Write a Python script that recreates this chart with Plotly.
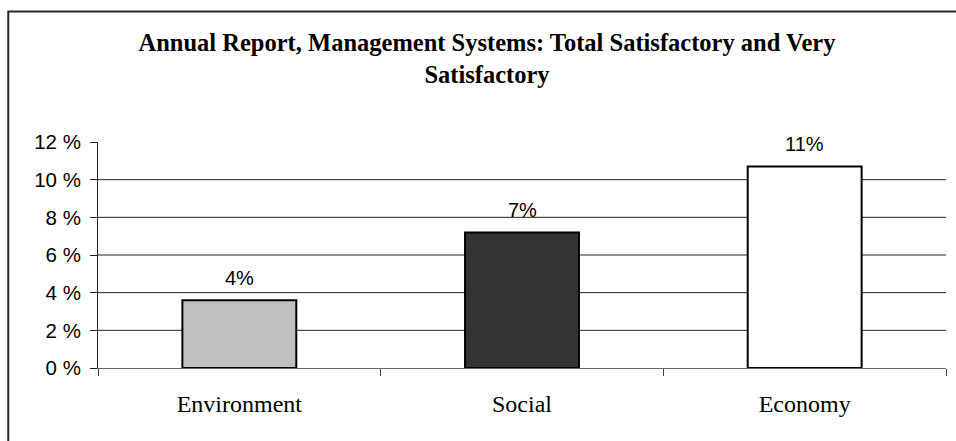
import plotly.graph_objects as go

# ---- data ----
categories = ["Environment", "Social", "Economy"]
values = [3.6, 7.2, 10.7]            # percent
value_labels = ["4%", "7%", "11%"]
bar_colors = ["#C0C0C0", "#333333", "#FFFFFF"]
y_tick_values = [0, 2, 4, 6, 8, 10, 12]
y_tick_labels = ["0 %", "2 %", "4 %", "6 %", "8 %", "10 %", "12 %"]
grid_values = [2, 4, 6, 8, 10]

title_text = ("Annual Report, Management Systems: Total Satisfactory and Very"
              "<br>Satisfactory")

fig = go.Figure()
fig.add_trace(go.Bar(
    x=categories,
    y=values,
    marker=dict(color=bar_colors, line=dict(color="#000000", width=2)),
    hoverinfo="skip",
    showlegend=False,
))

# value labels above bars
for c, v, t in zip(categories, values, value_labels):
    fig.add_annotation(
        x=c, y=v, text=t, showarrow=False,
        xref="x", yref="y", yanchor="middle", yshift=22,
        font=dict(family="Liberation Sans, Arial", size=20, color="#000000"),
    )

# horizontal gridlines (excluding top of axis)
for g in grid_values:
    fig.add_shape(
        type="line", xref="paper", yref="y", x0=0, x1=1, y0=g, y1=g,
        line=dict(color="#222222", width=1), layer="below",
    )

# outer chart frame (extends beyond the right/bottom edge of the picture)
fig.add_shape(
    type="rect", xref="paper", yref="paper",
    x0=-0.1058, x1=1.2, y0=-1.0, y1=1.577,
    line=dict(color="#2a2a2a", width=2), layer="below",
)

fig.update_layout(
    width=956, height=441,
    margin=dict(l=98, r=10, t=142, b=73, pad=0),
    paper_bgcolor="#FFFFFF",
    plot_bgcolor="#FFFFFF",
    bargap=0.597,
    title=dict(
        text=title_text,
        xref="container", yref="container",
        x=487 / 956, xanchor="center",
        y=1 - 51 / 441, yanchor="middle",
        font=dict(family="Liberation Serif, Times New Roman", size=24.5,
                  color="#000000", weight="bold"),
    ),
    xaxis=dict(
        type="category",
        showgrid=False,
        showline=True, linecolor="#666666", linewidth=1,
        ticks="outside", ticklen=7, tickcolor="#444444", tickwidth=1,
        tickson="boundaries",
        ticklabelstandoff=14,
        tickfont=dict(family="Liberation Serif, Times New Roman", size=24,
                      color="#000000"),
        zeroline=False,
        fixedrange=True,
    ),
    yaxis=dict(
        range=[0, 12],
        tickmode="array", tickvals=y_tick_values, ticktext=y_tick_labels,
        showgrid=False,
        showline=True, linecolor="#222222", linewidth=1,
        ticks="outside", ticklen=7, tickcolor="#222222", tickwidth=1,
        ticklabelstandoff=5,
        tickfont=dict(family="Liberation Sans, Arial", size=20.5,
                      color="#000000"),
        zeroline=False,
        fixedrange=True,
    ),
)

fig.write_html("out.html")
